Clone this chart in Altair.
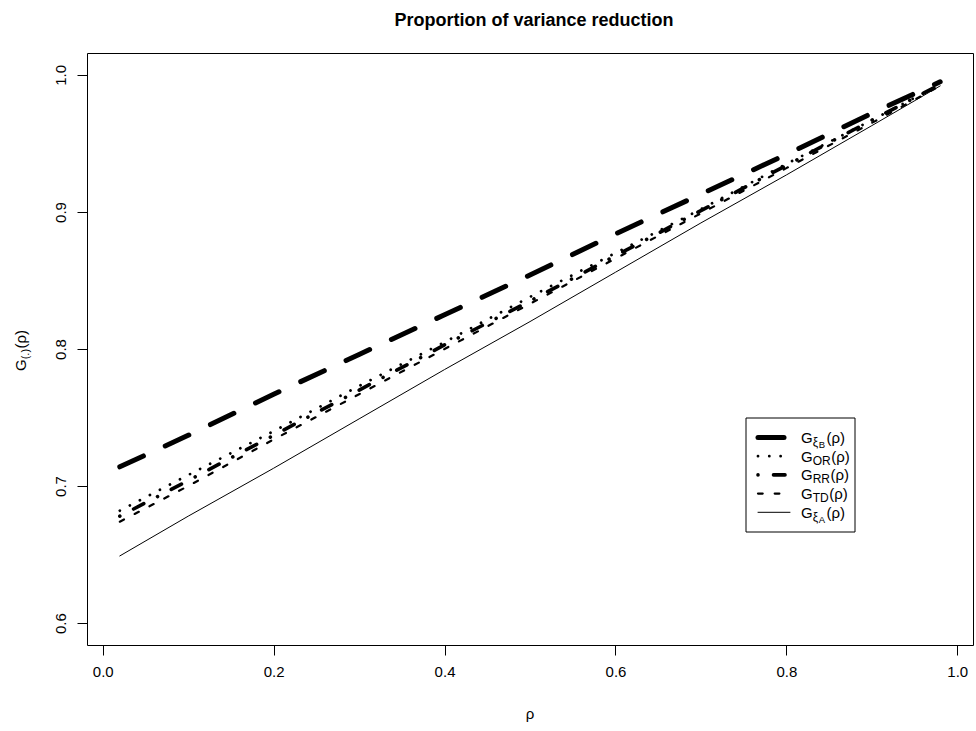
import altair as alt
import pandas as pd

FONT = "Liberation Sans"

# ---- data ----
rho = [0.02, 0.1, 0.2, 0.3, 0.4, 0.5, 0.6, 0.7, 0.8, 0.9, 0.98]
g_xiB = [0.714, 0.737, 0.767, 0.796, 0.825, 0.854, 0.884, 0.913, 0.942, 0.972, 0.995]
g_OR = [0.682, 0.708, 0.740, 0.773, 0.805, 0.838, 0.870, 0.902, 0.935, 0.967, 0.993]
g_RR = [0.678, 0.704, 0.737, 0.770, 0.803, 0.835, 0.868, 0.901, 0.934, 0.967, 0.993]
g_TD = [0.674, 0.700, 0.734, 0.767, 0.800, 0.833, 0.866, 0.899, 0.932, 0.965, 0.992]
g_xiA = [0.649, 0.678, 0.713, 0.749, 0.785, 0.820, 0.856, 0.892, 0.927, 0.963, 0.992]

x_ticks = [0.0, 0.2, 0.4, 0.6, 0.8, 1.0]
y_ticks = [0.6, 0.7, 0.8, 0.9, 1.0]

series = [
    # key, values, subscript, nested subscript, width, dash
    ("xiB", g_xiB, "ξ", "B", 5.0, [26, 24]),
    ("OR", g_OR, "OR", "", 2.8, [0.01, 11.3]),
    ("RR", g_RR, "RR", "", 3.6, [0.01, 15.5, 11.5, 15.5]),
    ("TD", g_TD, "TD", "", 2.2, [4.7, 12]),
    ("xiA", g_xiA, "ξ", "A", 1.0, []),
]

rows = []
for key, vals, *_ in series:
    for r, v in zip(rho, vals):
        rows.append({"series": key, "rho": r, "G": v})
df = pd.DataFrame(rows)
one = pd.DataFrame({"a": [0]})

# plot region in page pixels
L, T, W, H = 87, 53, 886, 592

xscale = alt.Scale(domain=[-0.0184, 1.0184], nice=False, zero=False)
yscale = alt.Scale(domain=[0.584, 1.016], nice=False, zero=False)

xaxis = alt.Axis(values=x_ticks, format=".1f", domain=False, grid=False,
                 tickSize=10, tickColor="black", labelColor="black",
                 labelFont=FONT, labelFontSize=15, labelPadding=9,
                 labelBaseline="top", title=None)
yaxis = alt.Axis(values=y_ticks, format=".1f", domain=False, grid=False,
                 tickSize=10, tickColor="black", labelColor="black",
                 labelFont=FONT, labelFontSize=15, labelPadding=12,
                 labelAngle=270, labelAlign="center", labelBaseline="alphabetic",
                 title=None)

layers = []
for i, (key, vals, sub, sub2, w, dash) in enumerate(series):
    mk = dict(color="black", strokeWidth=w, strokeCap="round", strokeJoin="round")
    if dash:
        mk["strokeDash"] = dash
    base = alt.Chart(df).transform_filter(alt.datum.series == key).mark_line(**mk).encode(
        x=alt.X("rho:Q", scale=xscale, axis=xaxis),
        y=alt.Y("G:Q", scale=yscale, axis=yaxis),
    )
    layers.append(base)


def txt(s, x, y, size, angle=0, weight="normal", align="left"):
    kw = dict(text=s, fontSize=size, font=FONT, align=align, baseline="alphabetic",
              fontWeight=weight, color="black")
    if angle:
        kw["angle"] = angle
    return alt.Chart(one).mark_text(**kw).encode(x=alt.value(x - L), y=alt.value(y - T))


# title
layers.append(txt("Proportion of variance reduction", 534, 26, 18, weight="bold", align="center"))
# x title
layers.append(txt("ρ", 530, 719, 15, align="center"))

# y title  G_(.)(ρ), rotated
W_ = {"G": 0.778, "(": 0.333, ")": 0.333, ".": 0.278, "ρ": 0.576, "ξ": 0.5,
      "O": 0.778, "R": 0.722, "T": 0.611, "D": 0.722, "A": 0.667, "B": 0.667}


def width(s, size):
    return sum(W_.get(c, 0.6) for c in s) * size


yb = 371
layers.append(txt("G", 25.5, yb, 15, angle=270))
yb -= width("G", 15)
layers.append(txt("(.)", 28.5, yb, 11, angle=270))
yb -= width("(.)", 11) + 0.5
layers.append(txt("(ρ)", 25.5, yb, 15, angle=270))

# legend box
layers.append(alt.Chart(one).mark_rect(fill="white", stroke="black", strokeWidth=1).encode(
    x=alt.value(746 - L), x2=alt.value(855 - L), y=alt.value(418 - T), y2=alt.value(532 - T)))

for i, (key, vals, sub, sub2, w, dash) in enumerate(series):
    ly = 437.5 + i * 18.7
    mk = dict(color="black", strokeWidth=w, strokeCap="round")
    if dash:
        mk["strokeDash"] = dash
    layers.append(alt.Chart(one).mark_rule(**mk).encode(
        x=alt.value(758 - L), x2=alt.value(790 - L), y=alt.value(ly - T), y2=alt.value(ly - T)))
    bx = 801
    by = ly + 5.4
    layers.append(txt("G", bx, by, 15))
    bx += width("G", 15)
    layers.append(txt(sub, bx, by + 3, 12))
    bx += width(sub, 12)
    if sub2:
        layers.append(txt(sub2, bx, by + 5, 9.5))
        bx += width(sub2, 9.5) + 1
    layers.append(txt("(ρ)", bx + 0.5, by, 15))

chart = alt.layer(*layers).properties(
    width=W, height=H,
    padding={"left": L, "top": T, "right": 976 - L - W, "bottom": 731 - T - H},
    autosize=alt.AutoSizeParams(type="none"),
    background="white",
).configure_view(stroke="black", strokeWidth=1)

chart.save("out.html", embed_options={"renderer": "svg", "actions": False})
